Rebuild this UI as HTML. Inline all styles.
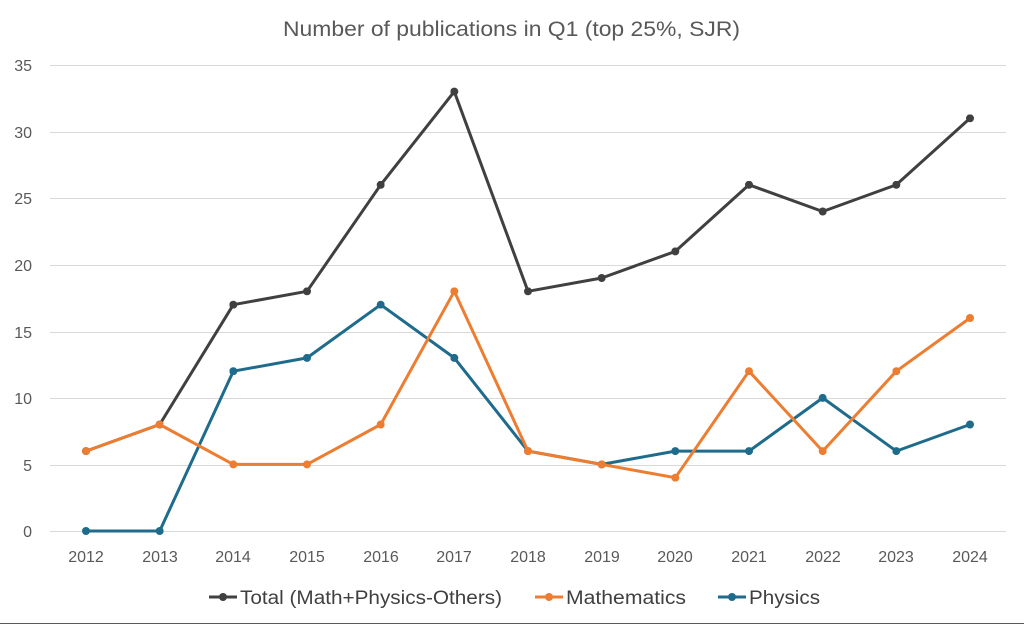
<!DOCTYPE html>
<html><head><meta charset="utf-8"><style>
html,body{margin:0;padding:0;background:#fff;}
svg{display:block;font-family:"Liberation Sans",sans-serif;}
</style></head><body>
<svg width="1024" height="625" viewBox="0 0 1024 625">
<defs>
<marker id="mk" viewBox="0 0 10 10" refX="5" refY="5" markerWidth="8" markerHeight="8" markerUnits="userSpaceOnUse"><circle cx="5" cy="5" r="5" fill="#404040"/></marker>
<marker id="mo" viewBox="0 0 10 10" refX="5" refY="5" markerWidth="8" markerHeight="8" markerUnits="userSpaceOnUse"><circle cx="5" cy="5" r="5" fill="#ED7D31"/></marker>
<marker id="mb" viewBox="0 0 10 10" refX="5" refY="5" markerWidth="8" markerHeight="8" markerUnits="userSpaceOnUse"><circle cx="5" cy="5" r="5" fill="#1F6B8C"/></marker>
</defs>
<rect width="1024" height="625" fill="#fff"/>
<line x1="0" y1="623.5" x2="1024" y2="623.5" stroke="#595959"/>
<text x="283" y="36" textLength="457" lengthAdjust="spacingAndGlyphs" font-size="21" fill="#595959">Number of publications in Q1 (top 25%, SJR)</text>
<g stroke="#d9d9d9" stroke-width="1">
<line x1="50" x2="1006" y1="65.5" y2="65.5"/>
<line x1="50" x2="1006" y1="132.5" y2="132.5"/>
<line x1="50" x2="1006" y1="198.5" y2="198.5"/>
<line x1="50" x2="1006" y1="265.5" y2="265.5"/>
<line x1="50" x2="1006" y1="332.5" y2="332.5"/>
<line x1="50" x2="1006" y1="398.5" y2="398.5"/>
<line x1="50" x2="1006" y1="465.5" y2="465.5"/>
<line x1="50" x2="1006" y1="531.5" y2="531.5"/>
</g>
<g font-size="16" fill="#595959" text-anchor="end">
<text x="32" y="71">35</text><text x="32" y="138">30</text><text x="32" y="204">25</text>
<text x="32" y="271">20</text><text x="32" y="338">15</text><text x="32" y="404">10</text>
<text x="32" y="471">5</text><text x="32" y="537">0</text>
</g>
<g font-size="16" fill="#595959" text-anchor="middle">
<text x="86" y="562">2012</text><text x="160" y="562">2013</text><text x="233" y="562">2014</text>
<text x="307" y="562">2015</text><text x="381" y="562">2016</text><text x="454" y="562">2017</text>
<text x="528" y="562">2018</text><text x="602" y="562">2019</text><text x="675" y="562">2020</text>
<text x="749" y="562">2021</text><text x="823" y="562">2022</text><text x="896" y="562">2023</text>
<text x="970" y="562">2024</text>
</g>
<g fill="none" stroke-width="3" stroke-linejoin="round">
<polyline stroke="#404040" marker-start="url(#mk)" marker-mid="url(#mk)" marker-end="url(#mk)" points="86,451.1 159.7,424.5 233.3,304.7 307,291.3 380.7,184.8 454.3,91.6 528,291.3 601.7,278 675.3,251.4 749,184.8 822.7,211.5 896.3,184.8 970,118.3"/>
<polyline stroke="#1F6B8C" marker-start="url(#mb)" marker-mid="url(#mb)" marker-end="url(#mb)" points="86,531 159.7,531 233.3,371.2 307,357.9 380.7,304.7 454.3,357.9 528,451.1 601.7,464.4 675.3,451.1 749,451.1 822.7,397.9 896.3,451.1 970,424.5"/>
<polyline stroke="#ED7D31" marker-start="url(#mo)" marker-mid="url(#mo)" marker-end="url(#mo)" points="86,451.1 159.7,424.5 233.3,464.4 307,464.4 380.7,424.5 454.3,291.3 528,451.1 601.7,464.4 675.3,477.7 749,371.2 822.7,451.1 896.3,371.2 970,318"/>
</g>
<g font-size="19" fill="#404040">
<line x1="209" x2="237" y1="597" y2="597" stroke="#404040" stroke-width="3"/><circle cx="223" cy="597" r="4" fill="#404040"/>
<text x="240" y="604" textLength="262" lengthAdjust="spacingAndGlyphs">Total (Math+Physics-Others)</text>
<line x1="535" x2="563" y1="597" y2="597" stroke="#ED7D31" stroke-width="3"/><circle cx="549" cy="597" r="4" fill="#ED7D31"/>
<text x="566" y="604" textLength="120" lengthAdjust="spacingAndGlyphs">Mathematics</text>
<line x1="718" x2="746" y1="597" y2="597" stroke="#1F6B8C" stroke-width="3"/><circle cx="732" cy="597" r="4" fill="#1F6B8C"/>
<text x="749" y="604" textLength="71" lengthAdjust="spacingAndGlyphs">Physics</text>
</g>
</svg>
</body></html>
